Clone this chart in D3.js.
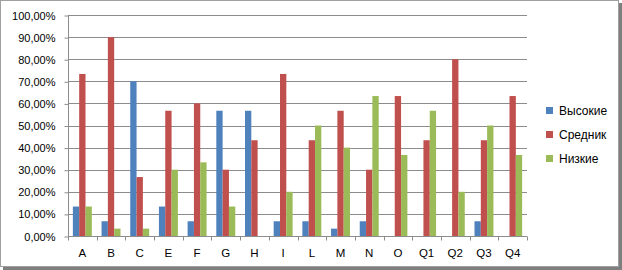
<!DOCTYPE html>
<html lang="ru">
<head>
  <meta charset="utf-8">
  <script src="https://d3js.org/d3.v7.min.js"></script>
  <style>
    body { margin: 0; background: #fff; }
    text { font-family: "Liberation Sans", Arial, sans-serif; }
  </style>
</head>
<body>
  <script>
    // data
    const categories = ["A","B","C","E","F","G","H","I","L","M","N","O","Q1","Q2","Q3","Q4"];
    const seriesNames = ["Высокие","Средник","Низкие"];
    const seriesColors = ["#4F81BD","#C0504D","#9BBB59"];
    const high = [13.33, 6.67, 70, 13.33, 6.67, 56.67, 56.67, 6.67, 6.67, 3.33, 6.67, 0, 0, 0, 6.67, 0];
    const mid  = [73.33, 90, 26.67, 56.67, 60, 30, 43.33, 73.33, 43.33, 56.67, 30, 63.33, 43.33, 80, 43.33, 63.33];
    const low  = [13.33, 3.33, 3.33, 30, 33.33, 13.33, 0, 20, 50, 40, 63.33, 36.67, 56.67, 20, 50, 36.67];
    const yTicks = [0,10,20,30,40,50,60,70,80,90,100];

    const W = 622, H = 270;
    const pLeft = 68, pRight = 527, pTop = 15, pBottom = 236;

    const svg = d3.select("body").append("svg")
      .attr("width", W).attr("height", H);

    // chart frame with shadow
    svg.append("rect").attr("x", 3).attr("y", 3).attr("width", W - 3).attr("height", H - 3).attr("fill", "#7f7f7f");
    svg.append("rect").attr("x", 0.5).attr("y", 0.5).attr("width", W - 4).attr("height", H - 4)
      .attr("fill", "#fff").attr("stroke", "#a0a0a0");

    const x = d3.scaleBand().domain(categories).range([pLeft, pRight]).paddingInner(0).paddingOuter(0);
    const x1 = d3.scaleBand().domain(seriesNames).range([0, x.bandwidth()]).paddingInner(0).paddingOuter(0.77);
    const y = d3.scaleLinear().domain([0, 100]).range([pBottom, pTop]);

    // grid lines
    svg.append("g").selectAll("line").data(yTicks.filter(d => d > 0)).join("line")
      .attr("x1", pLeft).attr("x2", pRight)
      .attr("y1", d => Math.round(y(d)) + 0.5).attr("y2", d => Math.round(y(d)) + 0.5)
      .attr("stroke", "#8c8c8c");

    // bars
    const table = categories.map((c, i) => ({ cat: c, vals: [high[i], mid[i], low[i]] }));
    const groups = svg.append("g").selectAll("g").data(table).join("g")
      .attr("transform", d => `translate(${x(d.cat)},0)`);
    groups.selectAll("rect").data(d => d.vals.map((v, j) => ({ v: v, s: seriesNames[j], c: seriesColors[j] })))
      .join("rect")
      .attr("x", d => x1(d.s))
      .attr("width", x1.bandwidth())
      .attr("y", d => y(d.v))
      .attr("height", d => pBottom - y(d.v))
      .attr("fill", d => d.c);

    // y axis
    const yAxis = svg.append("g").attr("transform", `translate(${pLeft + 0.5},0.5)`)
      .call(d3.axisLeft(y).tickValues(yTicks).tickSize(4).tickPadding(9)
        .tickFormat(d => d3.format(".2f")(d).replace(".", ",") + "%"));
    yAxis.selectAll("path, line").attr("stroke", "#8c8c8c");
    yAxis.select(".domain").attr("d", `M0,${pTop}V${pBottom}`);
    yAxis.selectAll("text").attr("font-size", 11).attr("fill", "#000")
      .attr("font-family", "Liberation Sans, Arial, sans-serif");

    // x axis
    const xAxis = svg.append("g").attr("transform", `translate(0,${pBottom + 0.5})`);
    xAxis.append("line").attr("x1", pLeft).attr("x2", pRight).attr("stroke", "#8c8c8c");
    xAxis.selectAll(".tk").data(categories.concat(["end"])).join("line")
      .attr("class", "tk")
      .attr("x1", (d, i) => Math.round(pLeft + i * x.bandwidth()) + 0.5)
      .attr("x2", (d, i) => Math.round(pLeft + i * x.bandwidth()) + 0.5)
      .attr("y1", 0).attr("y2", 4).attr("stroke", "#8c8c8c");
    xAxis.selectAll("text").data(categories).join("text")
      .attr("x", d => x(d) + x.bandwidth() / 2)
      .attr("y", 20.5)
      .attr("text-anchor", "middle")
      .attr("font-size", 11.5)
      .text(d => d);

    // legend
    const legend = svg.append("g").selectAll("g").data(seriesNames).join("g")
      .attr("transform", (d, i) => `translate(546,${110.5 + i * 24})`);
    legend.append("rect").attr("x", 0).attr("y", -3.5).attr("width", 7).attr("height", 7)
      .attr("fill", (d, i) => seriesColors[i]);
    legend.append("text").attr("x", 13).attr("y", 4.5).attr("font-size", 12).text(d => d);
  </script>
</body>
</html>
